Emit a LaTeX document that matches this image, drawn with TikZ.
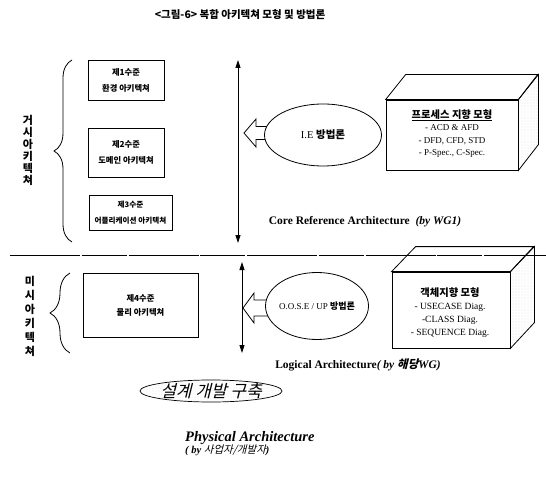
\documentclass[tikz,border=0pt]{standalone}
\usepackage{fontspec}
\setmainfont{Liberation Serif}
\newfontfamily\kr{Noto Sans CJK KR}
\newfontfamily\krit[FakeSlant=0.25]{Noto Sans CJK KR}
\usetikzlibrary{arrows.meta,shapes.geometric,decorations.pathreplacing,patterns.meta}
\begin{document}
\begin{tikzpicture}[x=1pt,y=-1pt,
  lvl/.style={draw, line width=0.9pt, inner sep=0pt, align=center,
    font=\kr\bfseries\fontsize{8.3}{16}\selectfont},
  vtext/.style={align=center, inner sep=0pt},
  dbl/.style={line width=0.8pt, {Triangle[width=5pt,length=8pt]}-{Triangle[width=5pt,length=8pt]}},
  hollow/.style={line width=0.8pt, fill=white},
  meth/.style={ellipse, draw, line width=0.8pt, fill=white, inner sep=0pt},
  front/.style={draw, line width=0.8pt, fill=white, inner sep=0pt},
  face/.style={draw, line width=0.8pt, fill=white},
  stipple/.style={draw, line width=0.8pt, pattern={Dots[distance=3pt,radius=0.3pt]}, pattern color=gray!55},
  bracestyle/.style={decorate, line width=0.8pt},
  boxtxt/.style={align=center, inner sep=0pt},
  archlbl/.style={inner sep=0pt, font=\bfseries\fontsize{11.5}{13}\selectfont}
]
\useasboundingbox (0,0) rectangle (546,484);

% title
\node[font=\kr\bfseries\fontsize{10.5}{11}\selectfont, inner sep=0pt] (title) at (240,15) {<그림-6> 복합 아키텍쳐 모형 및 방법론};

% vertical labels
\node[vtext, font=\kr\bfseries\fontsize{11}{12}\selectfont] (macro) at (28,150) {거\\시\\아\\키\\텍\\쳐};
\node[vtext, font=\kr\bfseries\fontsize{11}{14}\selectfont] (micro) at (30,316) {미\\시\\아\\키\\텍\\쳐};

% braces
\coordinate (b1b) at (72,242); \coordinate (b1t) at (72,60);
\draw[bracestyle, decoration={brace, amplitude=18pt}] (b1b) -- (b1t);
\coordinate (b2b) at (70,353); \coordinate (b2t) at (70,273);
\draw[bracestyle, decoration={brace, amplitude=20pt}] (b2b) -- (b2t);

% level boxes
\node[lvl, minimum width=76, minimum height=40] (L1) at (126,80) {제1수준\\환경 아키텍쳐};
\node[lvl, minimum width=76, minimum height=49] (L2) at (126,152.5) {제2수준\\도메인 아키텍쳐};
\node[lvl, minimum width=83, minimum height=35, font=\kr\bfseries\fontsize{7.6}{16}\selectfont] (L3) at (130.5,212.5) {제3수준\\어플리케이션 아키텍쳐};
\node[lvl, minimum width=115, minimum height=64, font=\kr\bfseries\fontsize{8.3}{14}\selectfont] (L4) at (140.5,305) {제4수준\\물리 아키텍쳐};

% vertical double arrows
\coordinate (a1t) at (238,60); \coordinate (a1b) at (238,243);
\draw[dbl] (a1t) -- (a1b);
\coordinate (a2t) at (242,262); \coordinate (a2b) at (242,353);
\draw[dbl] (a2t) -- (a2b);

% hollow arrows
\draw[hollow] (244,133) -- (256,119) -- (256,126.5) -- (280,126.5) -- (280,139.5) -- (256,139.5) -- (256,147) -- cycle;
\draw[hollow] (243,308) -- (254,293) -- (254,300) -- (280,300) -- (280,316) -- (254,316) -- (254,323) -- cycle;

% method ellipses
\node[meth, minimum width=117, minimum height=62] (IE) at (323,135) {};
\node[inner sep=0pt, font=\fontsize{10.5}{11}\selectfont] (IEt) at (IE.center) {I.E {\kr\bfseries 방법론}};
\node[meth, minimum width=103, minimum height=67] (OO) at (317,306) {};
\node[inner sep=0pt, font=\fontsize{9}{10}\selectfont] (OOt) at (OO.center) {O.O.S.E / UP {\kr\bfseries 방법론}};

% 3D box 1
\node[front, minimum width=132, minimum height=70] (PA) at (452,135) {};
\draw[face] (PA.north west) -- ++(20,-25) -- ++(132,0) -- (PA.north east) -- cycle;
\draw[stipple] (PA.north east) -- ++(20,-25) -- ++(0,70) -- (PA.south east) -- cycle;
\node[boxtxt, font=\fontsize{9}{12.5}\selectfont] (PAt) at (452,133.5) {{\kr\bfseries\fontsize{10.3}{12.5}\selectfont\underline{프로세스 지향 모형}}\\- ACD \& AFD\\- DFD, CFD, STD\\- P-Spec., C-Spec.};

% 3D box 2
\node[front, minimum width=118, minimum height=76] (OA) at (451,310) {};
\draw[face] (OA.north west) -- ++(24,-25) -- ++(118,0) -- (OA.north east) -- cycle;
\draw[stipple] (OA.north east) -- ++(24,-25) -- ++(0,76) -- (OA.south east) -- cycle;
\node[boxtxt, font=\fontsize{9.5}{12.8}\selectfont] (OAt) at (450,312.5) {{\kr\bfseries\fontsize{10.3}{12.8}\selectfont 객체지향 모형}\\- USECASE Diag.\\-CLASS Diag.\\- SEQUENCE Diag.};

% dashed separator
\coordinate (dl) at (10,255); \coordinate (dr) at (546,255);
\draw[line width=0.8pt, dash pattern=on 70pt off 1.5pt on 45pt off 2pt] (dl) -- (dr);

% architecture labels
\node[archlbl] (core) at (365,222) {Core Reference Architecture\ \ \textit{(by WG1)}};
\node[archlbl] (logi) at (358,365) {Logical Architecture\textit{( by {\krit 해당}WG)}};

% bottom ellipse
\node[ellipse, draw, line width=0.7pt, minimum width=142, minimum height=22, inner sep=0pt, pattern={Dots[distance=3pt,radius=0.3pt]}, pattern color=gray!50] (dev) at (211,391) {};
\node[inner sep=0pt, font=\krit\fontsize{17}{17}\selectfont] (devt) at (dev.center) {설계 개발 구축};

\node[anchor=west, align=left, inner sep=0pt, font=\bfseries\itshape\fontsize{14.5}{14}\selectfont] (phys) at (185,443.5) {Physical Architecture\\[-1.5pt]{\fontsize{10.5}{13}\selectfont ( by {\krit\mdseries 사업자/개발자})}};
\end{tikzpicture}
\end{document}
